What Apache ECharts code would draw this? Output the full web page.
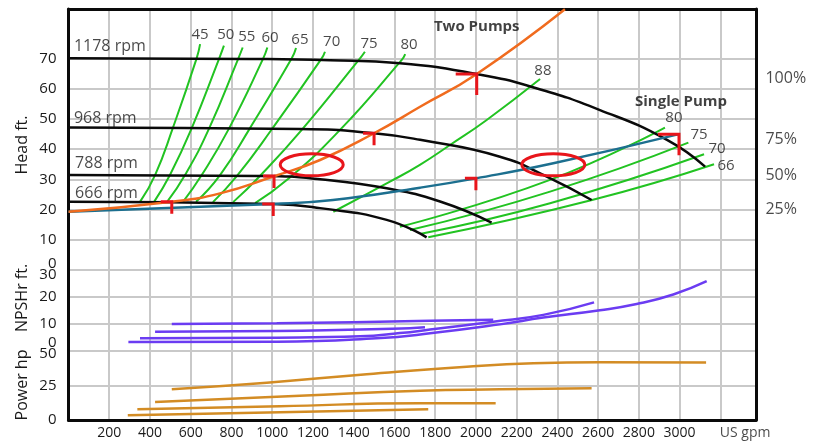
<!DOCTYPE html>
<html><head><meta charset="utf-8">
<script src="https://cdn.jsdelivr.net/npm/echarts@6/dist/echarts.min.js"></script>
<style>html,body{margin:0;padding:0;background:#fff}#c{width:824px;height:444px}</style>
</head><body><div id="c"></div>
<script>
// ---------- DATA (flow in US gpm, head/NPSHr in ft, power in hp) ----------
const headTicksShown = 70;          // highest labelled/gridded head tick

const rpmNames = ['1178 rpm', '968 rpm', '788 rpm', '666 rpm'];
const rpmLabelAnchor = [[24, 74.2], [24, 50.3], [30, 35.2], [30, 25.4]];

const head1178 = [[0,70.2],[891,70.0],[1284,69.6],[1627,68.6],[2004,65.0],[2280,60.6],[2609,53.0],[2938,43.1],[3125,34.2]];
const head968  = [[0,47.2],[1136,46.7],[1500,45.3],[1726,43.1],[2118,37.5],[2348,30.9],[2568,23.1]];
const head788  = [[0,31.4],[956,31.1],[1235,30.0],[1562,27.0],[1824,22.6],[2077,15.6]];
const head666  = [[0,22.55],[1005,21.8],[1235,20.4],[1562,16.5],[1758,10.7]];

const systemTwoPumps   = [[0,19.2],[507,22.5],[744,25.3],[1005,30.9],[1235,36.4],[1500,45.3],[1726,54.1],[2004,65.0],[2437,86.5]];
const systemSinglePump = [[0,19.2],[1005,21.8],[1298,23.1],[1726,27.2],[2000,30.3],[2380,35.3],[2997,45.0]];

const effNames = ['45', '50', '55', '60', '65', '70', '75', '80'];
const eff45 = [[351,22.5],[425,31.4],[512,47.0],[629,70.2],[646,74.9]];
const eff50 = [[420,22.5],[498,31.4],[605,47.0],[740,70.2],[763,74.4]];
const eff55 = [[484,22.5],[572,31.4],[691,47.0],[834,70.2],[855,73.8]];
const eff60 = [[562,22.5],[654,31.4],[789,47.0],[956,70.2],[976,73.8]];
const eff65 = [[626,22.5],[744,31.4],[891,47.0],[1096,70.2],[1117,73.6]];
const eff70 = [[709,22.4],[827,31.1],[999,46.7],[1243,70.2],[1259,72.4]];
const eff75 = [[808,22.4],[940,31.1],[1145,46.4],[1431,70.2],[1455,72.4]];
const eff80 = [[916,22.1],[1073,29.8],[1333,46.4],[1636,69.7],[1653,71.6]];
const effLabelAnchor = [[646,78.0],[772,78.0],[875,77.4],[989,76.9],[1136,76.3],[1292,75.8],[1475,75.2],[1672,74.7]];

const eff88 = [[1300,19.2],[1578,29.2],[1725,34.8],[1873,41.4],[2053,49.7],[2315,63.3]];
const eff88Label = ['88'];
const eff88Anchor = [[2329,66.1]];

const singleEffNames = ['80', '75', '70', '66'];
const single80 = [[1627,14.2],[2364,29.8],[2928,47.2]];
const single75 = [[1676,13.1],[2364,25.9],[3043,42.2]];
const single70 = [[1725,11.8],[2364,22.0],[3120,38.3]];
const single66 = [[1766,10.7],[2570,23.1],[3169,35.0]];
const singleEffAnchor = [[2972,50.4],[3095,44.7],[3184,40.1],[3228,34.4]];

const speedPctNames = ['100%', '75%', '50%', '25%'];
const speedPctAnchor = [[3419,63.6],[3419,43.1],[3419,31.4],[3419,20.0]];

const titleNames = ['Two Pumps', 'Single Pump'];
const titleAnchor = [[2004,80.8],[3007,55.9]];

const operatingSmall = [[507,22.5],[1005,21.8],[1009,31.1],[1500,45.3],[2000,30.3]];
const operatingLarge = [[2004,65.0],[2997,45.0]];
const highlightCenters = [[1194,34.8],[2380,34.8]];

const npshA = [[507,9.9],[1022,10.2],[1775,11.1],[2085,11.5]];
const npshB = [[425,7.1],[1022,7.35],[1676,8.35],[1750,8.7]];
const npshC = [[351,4.7],[1022,4.9],[1431,5.4],[1627,6.6],[1775,7.9],[2085,10.8],[2331,13.3],[2580,17.9]];
const npshD = [[294,3.3],[1022,3.4],[1513,4.7],[1775,6.5],[2118,9.8],[2331,12.3],[2609,15.0],[2789,17.3],[2969,20.8],[3133,25.7]];

const power1178 = [[507,22.2],[973,27.0],[1464,33.1],[1955,38.6],[2282,41.1],[2609,41.8],[3130,41.6]];
const power968  = [[425,13.0],[1136,17.5],[1726,21.2],[2118,22.2],[2568,23.0]];
const power788  = [[338,7.75],[1039,10.0],[1726,12.1],[2097,12.1]];
const power666  = [[291,3.4],[1039,5.6],[1766,7.75]];

const flowUnit = ['US gpm'];
const flowUnitAnchor = [[3200, 0]];

// ---------- STYLE ----------
const FONT = '"Open Sans", "DejaVu Sans", sans-serif';
const TEXT = '#1a1a1a';
const GRID = '#c9c9c9';
const NOGRID = 'rgba(0,0,0,0)';
const BLACK = '#0a0a0a';
const GREEN = '#22c322';
const ORANGE = '#f06b1e';
const BLUE = '#1c6f8f';
const RED = '#e8151b';
const PURPLE = '#6b3cf2';
const GOLD = '#d38c24';
const XMAX = 3375;

function curve(data, color, width, gi, z) {
  return {type: 'line', data: data, xAxisIndex: gi, yAxisIndex: gi, showSymbol: false, symbol: 'none',
    smooth: 0.5, lineStyle: {color: color, width: width}, z: z || 3, silent: true};
}
function labels(names, anchors, gi, lab) {
  return {type: 'scatter', xAxisIndex: gi, yAxisIndex: gi, symbolSize: 1, itemStyle: {color: 'rgba(0,0,0,0)'},
    silent: true, clip: false, z: 8,
    data: names.map((n, i) => ({name: n, value: anchors[i]})),
    label: Object.assign({show: true, formatter: '{b}', color: TEXT, fontFamily: FONT, fontSize: 15}, lab)};
}
function markers(data, armL, armD) {
  return {type: 'custom', xAxisIndex: 0, yAxisIndex: 0, z: 9, silent: true, data: data,
    renderItem: function (params, api) {
      const p = api.coord([api.value(0), api.value(1)]);
      return {type: 'polyline', shape: {points: [[p[0] - armL, p[1]], [p[0], p[1]], [p[0], p[1] + armD]]},
        style: {stroke: RED, lineWidth: 3, fill: 'none'}};
    }};
}

const grids = [
  {left: 68.5, right: 68, top: 9, height: 260.5},
  {left: 68.5, right: 68, top: 269.5, height: 81.5},
  {left: 68.5, right: 68, top: 351, height: 69}
];
function xAx(gi, pos, line, showLab) {
  return {type: 'value', gridIndex: gi, min: 0, max: XMAX, interval: 200, position: pos,
    axisLine: {show: line, onZero: false, lineStyle: {color: BLACK, width: 3}}, axisTick: {show: false},
    splitLine: {show: true, lineStyle: {color: GRID, width: 2}},
    axisLabel: {show: showLab, fontSize: 14, color: TEXT, fontFamily: FONT, margin: 6,
      formatter: v => (v >= 200 && v <= 3000) ? String(v) : ''}};
}
const lab = {fontSize: 15, color: TEXT, fontFamily: FONT};
function yAx(gi, max, interval, fmt, rich, split) {
  return {type: 'value', gridIndex: gi, min: 0, max: max, interval: interval, position: 'left',
    axisLine: {show: true, onZero: false, lineStyle: {color: BLACK, width: 3}}, axisTick: {show: false},
    splitLine: split,
    axisLabel: Object.assign({show: true, margin: 12, formatter: fmt, rich: rich}, lab)};
}
function yRight(gi, max) {
  return {type: 'value', gridIndex: gi, min: 0, max: max, position: 'right',
    axisLine: {show: true, onZero: false, lineStyle: {color: BLACK, width: 3}}, axisTick: {show: false},
    splitLine: {show: false}, axisLabel: {show: false}};
}
const up11 = Object.assign({padding: [0, 0, 11, 0]}, lab);
const dn11 = Object.assign({padding: [11, 0, 0, 0]}, lab);
const up17 = Object.assign({padding: [0, 0, 17, 0]}, lab);
const dn5 = Object.assign({padding: [5, 0, 0, 0]}, lab);

const headGridColors = [GRID, GRID, GRID, GRID, GRID, GRID, GRID, GRID, NOGRID, NOGRID];

const option = {
  animation: false,
  backgroundColor: '#fff',
  grid: grids,
  xAxis: [xAx(0, 'top', true, false), xAx(1, 'bottom', false, false), xAx(2, 'bottom', true, true)],
  yAxis: [
    yAx(0, 86.6, 10, v => v === 0 ? '{u|0}' : (v <= headTicksShown ? String(v) : ''), {u: up11},
      {show: true, lineStyle: {color: headGridColors, width: 2}}),
    yAx(1, 30, 10, v => v === 30 ? '{d|30}' : (v === 0 ? '{u|0}' : String(v)), {d: dn11, u: up17},
      {show: true, lineStyle: {color: GRID, width: 2}}),
    yAx(2, 50, 25, v => v === 50 ? '{d|50}' : String(v), {d: dn5},
      {show: true, showMinLine: false, lineStyle: {color: GRID, width: 2}}),
    yRight(0, 86.6), yRight(1, 30), yRight(2, 50)
  ],
  graphic: [
    {type: 'text', x: 22, y: 145, rotation: Math.PI / 2, style: {text: 'Head ft.', font: '16px ' + FONT, fill: TEXT, align: 'center', verticalAlign: 'middle'}},
    {type: 'text', x: 22, y: 298, rotation: Math.PI / 2, style: {text: 'NPSHr ft.', font: '16px ' + FONT, fill: TEXT, align: 'center', verticalAlign: 'middle'}},
    {type: 'text', x: 22, y: 385, rotation: Math.PI / 2, style: {text: 'Power hp', font: '16px ' + FONT, fill: TEXT, align: 'center', verticalAlign: 'middle'}}
  ],
  series: [
    curve(eff45, GREEN, 2, 0), curve(eff50, GREEN, 2, 0), curve(eff55, GREEN, 2, 0), curve(eff60, GREEN, 2, 0),
    curve(eff65, GREEN, 2, 0), curve(eff70, GREEN, 2, 0), curve(eff75, GREEN, 2, 0), curve(eff80, GREEN, 2, 0),
    curve(eff88, GREEN, 2, 0),
    curve(single80, GREEN, 2, 0), curve(single75, GREEN, 2, 0), curve(single70, GREEN, 2, 0), curve(single66, GREEN, 2, 0),
    curve(head1178, BLACK, 2.5, 0, 4), curve(head968, BLACK, 2.5, 0, 4), curve(head788, BLACK, 2.5, 0, 4), curve(head666, BLACK, 2.5, 0, 4),
    curve(systemSinglePump, BLUE, 2.5, 0, 5),
    curve(systemTwoPumps, ORANGE, 2.5, 0, 5),
    curve(npshA, PURPLE, 2.5, 1), curve(npshB, PURPLE, 2.5, 1), curve(npshC, PURPLE, 2.5, 1), curve(npshD, PURPLE, 2.5, 1),
    curve(power1178, GOLD, 2.5, 2), curve(power968, GOLD, 2.5, 2), curve(power788, GOLD, 2.5, 2), curve(power666, GOLD, 2.5, 2),
    markers(operatingSmall, 11, 12),
    markers(operatingLarge, 21, 21),
    {type: 'custom', xAxisIndex: 0, yAxisIndex: 0, z: 9, silent: true, data: highlightCenters,
      renderItem: function (params, api) {
        const p = api.coord([api.value(0), api.value(1)]);
        return {type: 'ellipse', shape: {cx: p[0], cy: p[1], rx: 31.5, ry: 11},
          style: {stroke: RED, lineWidth: 3, fill: 'none'}};
      }},
    labels(rpmNames, rpmLabelAnchor, 0, {position: 'right', distance: 0, fontSize: 16}),
    labels(effNames, effLabelAnchor, 0, {position: 'inside', fontSize: 15}),
    labels(eff88Label, eff88Anchor, 0, {position: 'inside', fontSize: 15}),
    labels(singleEffNames, singleEffAnchor, 0, {position: 'inside', fontSize: 15}),
    labels(speedPctNames, speedPctAnchor, 0, {position: 'right', distance: 0, fontSize: 16}),
    labels(titleNames, titleAnchor, 0, {position: 'inside', fontSize: 15, fontWeight: 'bold', color: '#111'}),
    labels(flowUnit, flowUnitAnchor, 2, {position: [0, 7], align: 'left', verticalAlign: 'top', fontSize: 14})
  ]
};

const chart = echarts.init(document.getElementById('c'), null, {renderer: 'canvas'});
chart.setOption(option);
</script></body></html>
